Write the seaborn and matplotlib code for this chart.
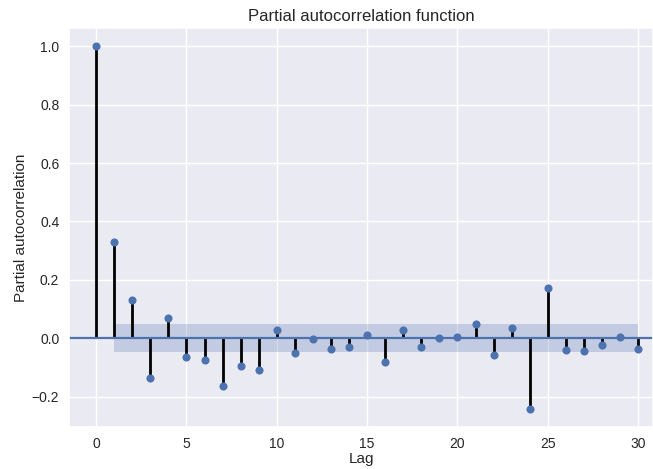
import numpy as np
import matplotlib
matplotlib.use("Agg")
import matplotlib.pyplot as plt
import pandas as pd
import seaborn as sns

sns.set_theme(style="darkgrid")
plt.rcParams['font.family'] = ['Liberation Sans', 'DejaVu Sans']

# valores
lags = list(range(31))
pacf = [1.0, 0.331, 0.131, -0.136, 0.068, -0.064, -0.075, -0.165, -0.094, -0.108,
        0.029, -0.049, -0.003, -0.038, -0.031, 0.013, -0.080, 0.029, -0.030, 0.001,
        0.003, 0.050, -0.058, 0.034, -0.241, 0.172, -0.041, -0.043, -0.024, 0.003,
        -0.038]
conf = 0.048

data = pd.DataFrame({'lag': lags, 'pacf': pacf})

fig = plt.figure(figsize=(6.53, 4.69), dpi=100)
ax = fig.add_axes([0.1057, 0.090, 0.8943, 0.850])

ax.vlines(data['lag'], 0, data['pacf'], colors='black', linewidth=2)
ax.axhline(0, color='#4C72B0', linewidth=1.6)
ax.fill_between(data['lag'][1:], -conf, conf, color='#4C72B0', alpha=0.25, linewidth=0)
sns.scatterplot(data=data, x='lag', y='pacf', ax=ax, color='#4C72B0', s=34,
                linewidth=0, zorder=3)

ax.set_xlim(-1.5, 30.82)
ax.set_ylim(-0.303, 1.062)
ax.set_xticks([0, 5, 10, 15, 20, 25, 30])
ax.set_title('Partial autocorrelation function', fontsize=12, pad=5)
ax.set_xlabel('Lag', fontsize=11, labelpad=1)
ax.set_ylabel('Partial autocorrelation', fontsize=11, labelpad=3)
ax.tick_params(labelsize=10, pad=1)

fig.savefig('out.png', dpi=100)
